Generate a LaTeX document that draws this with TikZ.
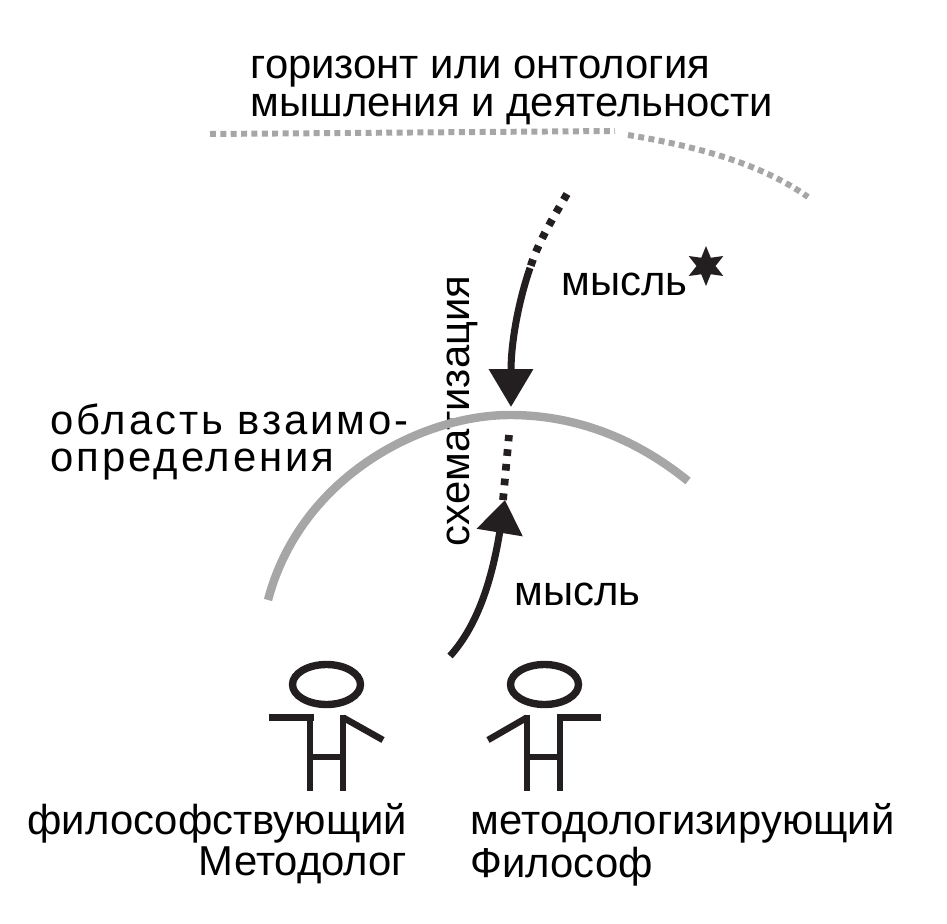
\documentclass[tikz,border=0pt]{standalone}
\usepackage{fontspec}
\setmainfont{Liberation Sans}
\usetikzlibrary{arrows.meta,shapes.geometric}
\definecolor{inkblack}{HTML}{231F20}
\definecolor{inkgrey}{HTML}{A6A6A6}
\tikzset{
  label/.style={inner sep=0pt,text=black,font=\fontsize{11.9}{10.4}\selectfont,align=left},
  bodyline/.style={color=inkblack,line width=1.85pt},
  head/.style={draw=inkblack,ellipse,line width=2.1pt,minimum width=0.68cm,minimum height=0.4cm,inner sep=0pt},
  thought/.style={color=inkblack,line width=2pt},
  thoughtdots/.style={color=inkblack,line width=2.2pt,dash pattern=on 1.9pt off 2.3pt},
  horizon/.style={color=inkgrey,line width=1.7pt,dash pattern=on 1.7pt off 1.25pt},
}
\begin{document}
\begin{tikzpicture}
\useasboundingbox (0,0) rectangle (9.47,9.23);
%
\node[label,anchor=north west,font=\fontsize{11.9}{10.8}\selectfont] (horizontext) at (2.5,8.68) {горизонт или онтология\\мышления и деятельности};
\coordinate (hor1) at (2.1,7.89);
\coordinate (hor2) at (6.15,7.92);
\coordinate (hor3) at (6.28,7.88);
\coordinate (hor4) at (8.08,7.26);
\draw[horizon] (hor1) -- (hor2);
\draw[horizon] (hor3) .. controls (6.95,7.77) and (7.6,7.6) .. (hor4);
%
\node[label,anchor=base west] (upperthought) at (5.61,6.28) {мысль};
\node[draw=none,fill=inkblack,star,star points=6,star point ratio=2.1,minimum size=0.4cm,inner sep=0pt] (spark) at (7.06,6.57) {};
\coordinate (top1) at (5.67,7.29);
\coordinate (top2) at (5.3,6.55);
\coordinate (top3) at (5.11,5.16);
\draw[thoughtdots] (top1) .. controls (5.5,7.0) and (5.38,6.8) .. (top2);
\draw[thought,-{Triangle[length=0.38cm,width=0.43cm]}] (top2) .. controls (5.18,6.2) and (5.11,5.8) .. (top3);
%
\node[label,rotate=90,anchor=base west] (schematext) at (4.69,3.76) {схематизация};
\node[label,anchor=north west,font=\fontsize{11.9}{10.7}\selectfont\addfontfeature{LetterSpace=7}] (areatext) at (0.5,5.2) {область взаимо-\\определения};
\coordinate (arc1) at (2.68,3.23);
\coordinate (arc2) at (6.88,4.42);
\draw[color=inkgrey,line width=2.4pt] (arc1) .. controls (3.0,4.45) and (4.2,5.08) .. (5.1,5.08) .. controls (5.75,5.08) and (6.35,4.85) .. (arc2);
%
\coordinate (low1) at (4.5,2.67);
\coordinate (low2) at (5.03,4.23);
\coordinate (low3) at (5.09,4.88);
\draw[thought,-{Triangle[length=0.33cm,width=0.45cm]}] (low1) .. controls (4.8,3.0) and (4.93,3.5) .. (5.05,4.23);
\draw[thoughtdots] (low2) -- (low3);
\node[label,anchor=base west] (lowerthought) at (5.14,3.18) {мысль};
%
\node[head] (headleft) at (3.265,2.385) {};
\draw[bodyline] (2.69,2.055) -- (3.14,2.055);
\draw[bodyline] (3.1,2.08) -- (3.1,1.32);
\draw[bodyline] (3.43,2.08) -- (3.43,1.32);
\draw[bodyline] (3.1,1.66) -- (3.43,1.66);
\draw[bodyline] (3.43,2.055) -- (3.83,1.83);
\node[label,anchor=north east,align=right] (leftname) at (4.08,1.2) {философствующий\\Методолог};
%
\node[head] (headright) at (5.445,2.385) {};
\draw[bodyline] (5.57,2.055) -- (6.01,2.055);
\draw[bodyline] (5.27,2.08) -- (5.27,1.32);
\draw[bodyline] (5.6,2.08) -- (5.6,1.32);
\draw[bodyline] (5.27,1.66) -- (5.6,1.66);
\draw[bodyline] (5.27,2.055) -- (4.88,1.83);
\node[label,anchor=north west] (rightname) at (4.7,1.2) {методологизирующий\\Философ};
\end{tikzpicture}
\end{document}
